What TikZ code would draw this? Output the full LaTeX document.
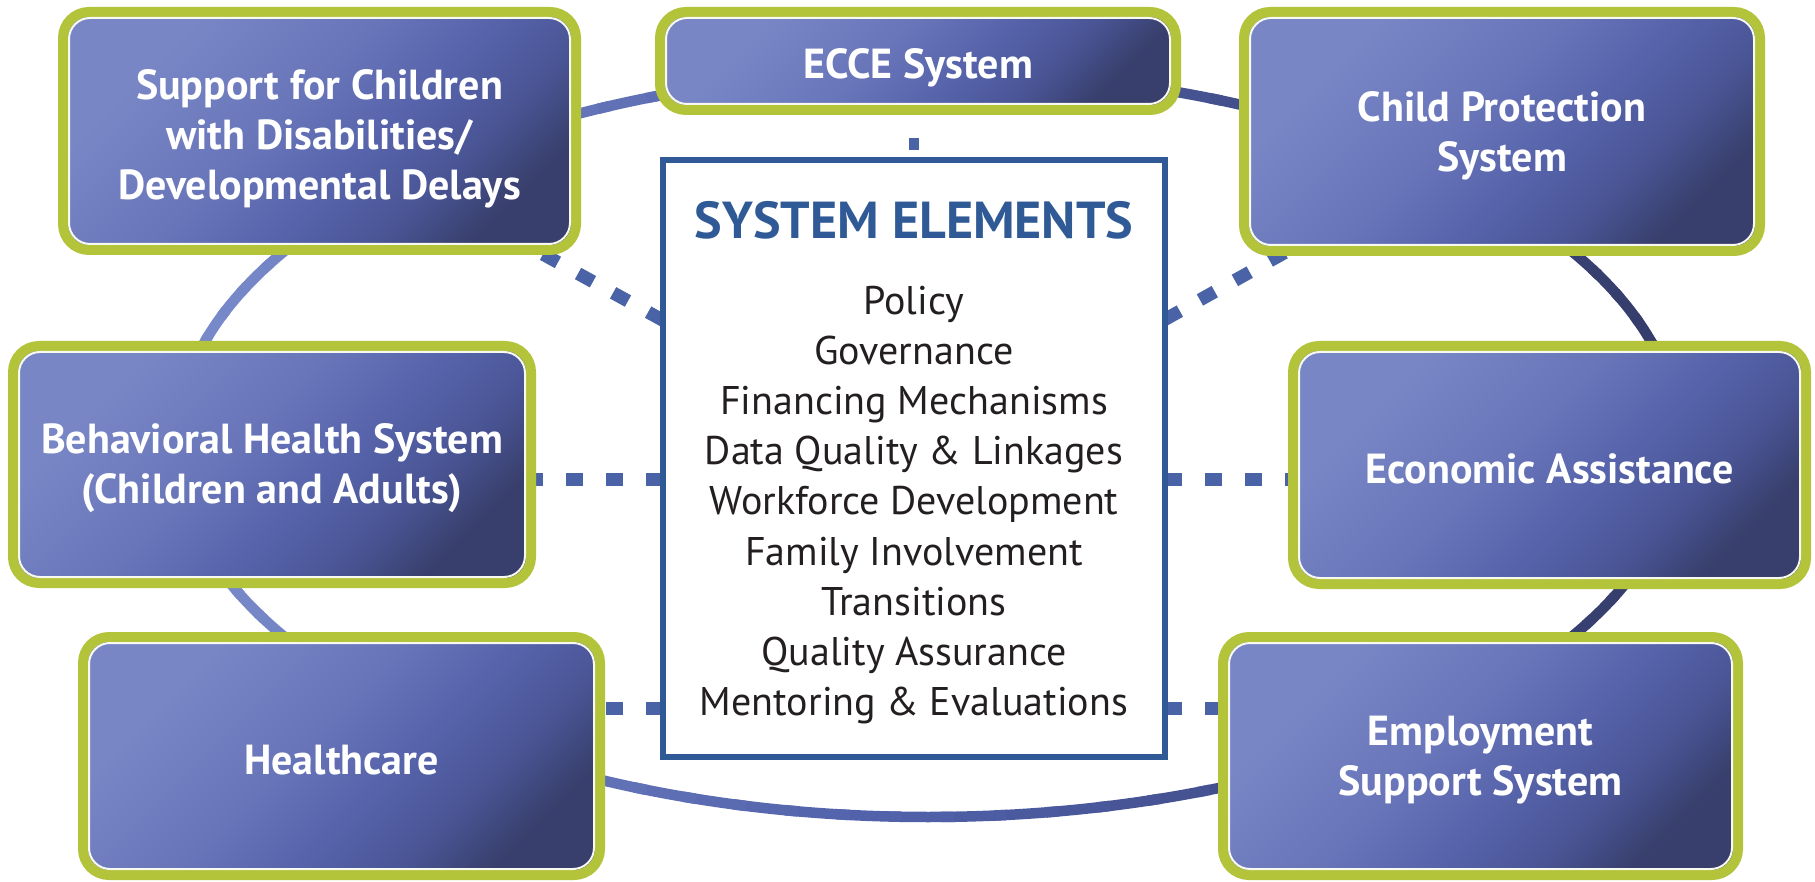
\documentclass[tikz,border=0pt]{standalone}
\usepackage{fontspec}
\setmainfont{PT Sans}
\usetikzlibrary{calc}
\definecolor{gborder}{HTML}{B3C33A}
\definecolor{boxlight}{HTML}{7886C6}
\definecolor{boxlightb}{HTML}{6875B9}
\definecolor{boxmid}{HTML}{5764AB}
\definecolor{boxmidb}{HTML}{4A5596}
\definecolor{boxdark}{HTML}{383F6C}
\definecolor{ringlight}{HTML}{7A8BCB}
\definecolor{ringmid}{HTML}{4F5FA8}
\definecolor{ringdark}{HTML}{333B68}
\definecolor{dashc}{HTML}{4A62A6}
\definecolor{ctrblue}{HTML}{2F5A95}
\definecolor{listtext}{HTML}{231F20}
\pgfdeclarehorizontalshading{boxshade}{100bp}{color(0bp)=(boxlight); color(28bp)=(boxlight);
  color(45bp)=(boxlightb); color(56bp)=(boxmid); color(66bp)=(boxmidb); color(75bp)=(boxdark);
  color(100bp)=(boxdark)}
\pgfdeclarelayer{bg}
\pgfsetlayers{bg,main}
\tikzset{
  sysbox/.style={rounded corners=26pt, draw=gborder, line width=10pt,
    shading=boxshade, shading angle=-45, inner sep=0pt, outer sep=0pt},
  boxtext/.style={text=white, font=\bfseries\fontsize{42}{50}\selectfont, align=center,
    inner sep=0pt, yshift=-4pt},
  innerline/.style={draw=white!92!gborder, line width=2pt, rounded corners=21pt},
  linkdash/.style={draw=dashc, line width=13pt, dash pattern=on 17pt off 23pt},
  ringseg/.style={line width=10.5pt},
}
\begin{document}
\begin{tikzpicture}[x=1pt,y=-1pt]
\useasboundingbox (0,0) rectangle (1815,882);

% boxes
\node[sysbox, minimum width=513pt, minimum height=238pt] (sup) at (319.5,131) {};
\node[sysbox, minimum width=516pt, minimum height=98pt] (ecce) at (918,61) {};
\node[sysbox, minimum width=516pt, minimum height=239pt] (cps) at (1502,131.5) {};
\node[sysbox, minimum width=518pt, minimum height=237pt] (beh) at (272,464.5) {};
\node[sysbox, minimum width=513pt, minimum height=238pt] (eco) at (1549.5,465) {};
\node[sysbox, minimum width=517pt, minimum height=238pt] (hc) at (341.5,756) {};
\node[sysbox, minimum width=515pt, minimum height=238pt] (emp) at (1480.5,756) {};

\foreach \n in {sup,ecce,cps,beh,eco,hc,emp}{
  \draw[innerline] ([shift={(6pt,-6pt)}]\n.north west) rectangle ([shift={(-6pt,6pt)}]\n.south east);
}

\node[boxtext, yshift=-4pt] (supt) at (sup.center) {Support for Children\\with Disabilities/\\Developmental Delays};
\node[boxtext, yshift=-3pt] (ecct) at (ecce.center) {ECCE System};
\node[boxtext] (cpst) at (cps.center) {Child Protection\\System};
\node[boxtext] (beht) at (beh.center) {Behavioral Health System\\(Children and Adults)};
\node[boxtext] (ecot) at (eco.center) {Economic Assistance};
\node[boxtext] (hct) at (hc.center) {Healthcare};
\node[boxtext] (empt) at (emp.center) {Employment\\Support System};

% centre box
\node[draw=ctrblue, line width=6pt, fill=white, minimum width=502pt, minimum height=597pt,
  inner sep=0pt, outer sep=0pt] (ctr) at (914,458.5) {};
\node[text=ctrblue, font=\bfseries\fontsize{52}{56}\selectfont] (ttl) at (914,220) {SYSTEM ELEMENTS};
\node[text=listtext, align=center, font=\fontsize{40}{50.1}\selectfont] (lst) at (914,505)
  {Policy\\Governance\\Financing Mechanisms\\Data Quality \& Linkages\\Workforce Development\\
   Family Involvement\\Transitions\\Quality Assurance\\Mentoring \& Evaluations};

\coordinate (ymid) at (0,479);
\coordinate (ylow) at (0,708);

\begin{pgfonlayer}{bg}
  % ring
  \foreach \a in {0,4,...,356}{
    \pgfmathsetmacro\c{cos(\a+2)}
    \pgfmathsetmacro\tl{max(0,-100*\c)}
    \pgfmathsetmacro\tr{max(0,100*\c)}
    \colorlet{segc}{ringlight!\tl!ringmid}
    \colorlet{segc}{ringdark!\tr!segc}
    \draw[ringseg, segc] ({928+752*cos(\a)},{444+373*sin(\a)})
      arc[start angle=\a, end angle=\a+5, x radius=752, y radius=373];
  }
  % connectors
  \draw[linkdash] (ctr) -- (sup);
  \draw[linkdash] (ctr) -- (cps);
  \draw[linkdash] (ctr.west |- ymid) -- (beh.east |- ymid);
  \draw[linkdash] (ctr.east |- ymid) -- (eco.west |- ymid);
  \draw[linkdash] (ctr.west |- ylow) -- (hc.east |- ylow);
  \draw[linkdash] (ctr.east |- ylow) -- (emp.west |- ylow);
  \draw[draw=dashc, line width=10pt, dash pattern=on 0pt off 28pt on 12pt off 60pt]
    (ctr.north |- ecce.south) -- (ctr.north);
\end{pgfonlayer}
\end{tikzpicture}
\end{document}
